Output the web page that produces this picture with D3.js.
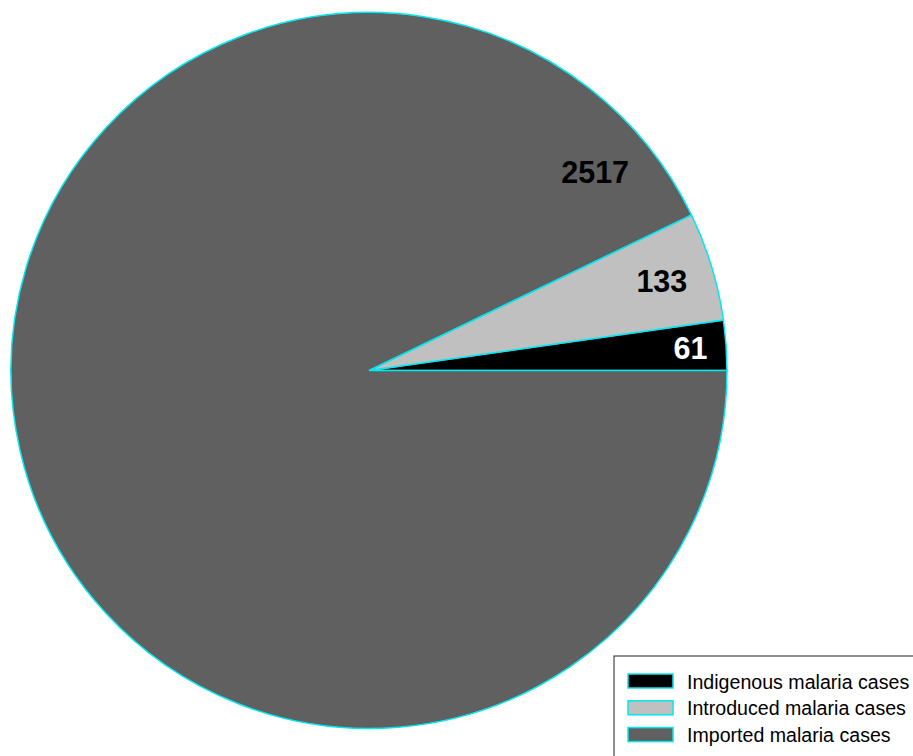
<!DOCTYPE html>
<html><head><meta charset="utf-8">
<script src="https://cdn.jsdelivr.net/npm/d3@7"></script>
<style>body{margin:0;background:#fff}svg{display:block}</style>
</head><body>
<script>
const categories = ["Indigenous malaria cases", "Introduced malaria cases", "Imported malaria cases"];
const values = [61, 133, 2517];
const colors = ["#000000", "#c0c0c0", "#606060"];
const labelColors = ["#ffffff", "#000000", "#000000"];

const W = 913, H = 756;
const cx = 369, cy = 370.5, R = 358;
const svg = d3.select("body").append("svg").attr("width", W).attr("height", H);

// counter-clockwise from 3 o'clock
const pie = d3.pie().sort(null).value(d => d)
  .startAngle(Math.PI / 2).endAngle(Math.PI / 2 - 2 * Math.PI);
const arcs = pie(values);
const arc = d3.arc().innerRadius(0).outerRadius(R);

const g = svg.append("g").attr("transform", `translate(${cx},${cy})`);
g.selectAll("path").data(arcs).enter().append("path")
  .attr("d", arc)
  .attr("fill", (d, i) => colors[i])
  .attr("stroke", "#00e8f0").attr("stroke-width", 1.5);

// label placement: small slices at mid-angle, large slice near its start
const labelAngle = (d, i) => i < 2 ? (d.startAngle + d.endAngle) / 2 : d.startAngle - 0.27;
const labelRadius = [0.9, 0.855, 0.84];
g.selectAll("text.lbl").data(arcs).enter().append("text")
  .attr("class", "lbl")
  .attr("x", (d, i) => Math.sin(labelAngle(d, i)) * R * labelRadius[i])
  .attr("y", (d, i) => -Math.cos(labelAngle(d, i)) * R * labelRadius[i])
  .attr("text-anchor", "middle").attr("dominant-baseline", "central")
  .attr("font-family", "Arial, 'Liberation Sans', sans-serif")
  .attr("font-weight", "bold").attr("font-size", 30.5)
  .attr("fill", (d, i) => labelColors[i])
  .text(d => d.value);

// legend
const lg = svg.append("g").attr("transform", "translate(614,656)");
lg.append("rect").attr("x", 0).attr("y", 0).attr("width", 320).attr("height", 120)
  .attr("fill", "#fff").attr("stroke", "#222").attr("stroke-width", 1);
const rows = lg.selectAll("g.row").data(categories).enter().append("g")
  .attr("transform", (d, i) => `translate(14,${18 + i * 26.8})`);
rows.append("rect").attr("width", 45).attr("height", 14)
  .attr("fill", (d, i) => colors[i]).attr("stroke", "#00e8f0").attr("stroke-width", 1.5);
rows.append("text").attr("x", 59).attr("y", 7.5).attr("dominant-baseline", "central")
  .attr("font-family", "Arial, 'Liberation Sans', sans-serif").attr("font-size", 19.6)
  .attr("fill", "#000").text(d => d);
</script>
</body></html>
